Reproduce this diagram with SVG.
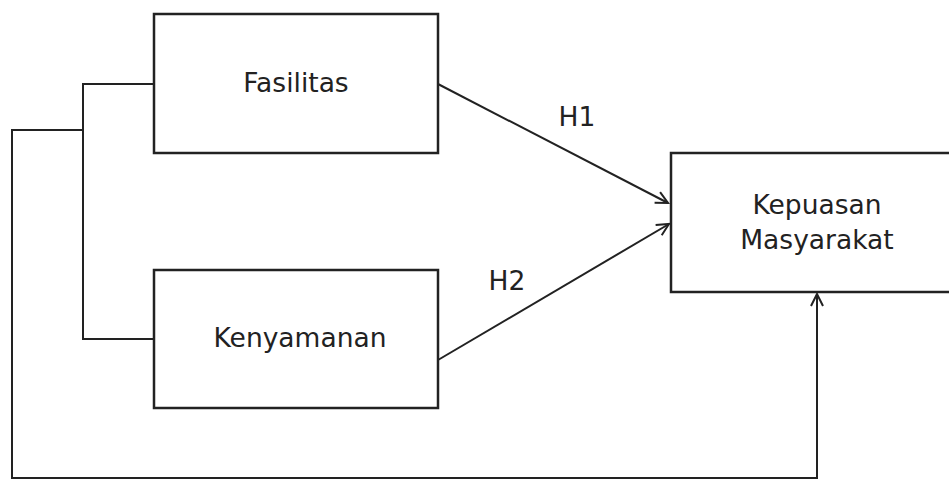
<svg xmlns="http://www.w3.org/2000/svg" width="949" height="484" viewBox="0 0 949 484">
<style>
.box{fill:#fff;stroke:#222;stroke-width:2.5}
.lbl{font-family:"DejaVu Sans",Verdana,sans-serif;font-size:26.5px;fill:#222;text-anchor:middle}
.conn{fill:none;stroke:#222;stroke-width:2}
</style>
<defs>
<marker id="arr" viewBox="-14 -8 16 16" refX="0" refY="0" markerWidth="16" markerHeight="16" markerUnits="userSpaceOnUse" orient="auto">
<path d="M-12,-6 L0,0 L-12,6" fill="none" stroke="#222" stroke-width="2"/>
</marker>
</defs>
<rect width="949" height="484" fill="#fff"/>
<g id="connectors">
<polyline class="conn" points="154,84 83,84 83,339 154,339"/>
<polyline class="conn" points="83,130 12,130 12,478 817,478 817,294" marker-end="url(#arr)"/>
<line class="conn" x1="438" y1="84" x2="668" y2="203" marker-end="url(#arr)"/>
<line class="conn" x1="438" y1="360" x2="669" y2="224" marker-end="url(#arr)"/>
<text class="lbl" x="577" y="126">H1</text>
<text class="lbl" x="507" y="290">H2</text>
</g>
<g id="fasilitas">
<rect class="box" x="154" y="14" width="284" height="139"/>
<text class="lbl" x="296" y="92">Fasilitas</text>
</g>
<g id="kenyamanan">
<rect class="box" x="154" y="270" width="284" height="138"/>
<text class="lbl" x="300" y="347">Kenyamanan</text>
</g>
<g id="kepuasan">
<rect class="box" x="671" y="153" width="290" height="139"/>
<text class="lbl" x="817" y="214">Kepuasan</text>
<text class="lbl" x="817" y="249">Masyarakat</text>
</g>
</svg>
